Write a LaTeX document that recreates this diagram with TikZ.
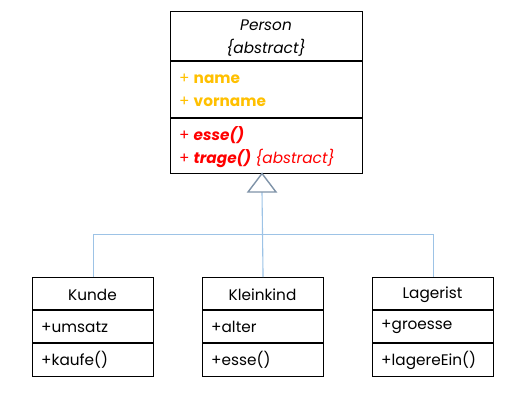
\documentclass[tikz,border=0pt]{standalone}
\usepackage{fontspec}
\setmainfont{Poppins}
\definecolor{attr}{HTML}{FFC000}
\definecolor{meth}{HTML}{FF0000}
\definecolor{conn}{HTML}{9DC3E6}
\definecolor{tri}{HTML}{7F93A8}
\begin{document}
\begin{tikzpicture}[x=1pt,y=-1pt,
  box/.style={draw=black,line width=1.1pt,inner sep=0pt,anchor=north west},
  sep/.style={draw=black,line width=1.1pt},
  thicksep/.style={draw=black,line width=2pt},
  txt/.style={inner sep=0pt,font=\fontsize{15.3}{17}\selectfont},
  ltxt/.style={txt,anchor=west},
  conn/.style={draw=conn,line width=1.1pt},
  tri/.style={draw=tri,line width=1.4pt,fill=white}]
\useasboundingbox (0,0) rectangle (513,410);
% Person
\node[box,minimum width=192pt,minimum height=162pt] (person) at (170,11) {};
\draw[sep] (170,61) -- (362,61);
\draw[thicksep] (170,117.5) -- (362,117.5);
\node[txt] (pname) at (266,25) {\itshape Person};
\node[txt] (pabs) at (266,48) {\itshape\{abstract\}};
\node[ltxt,text=attr] (a1) at (179,79) {+ \textbf{name}};
\node[ltxt,text=attr] (a2) at (179,102) {+ \textbf{vorname}};
\node[ltxt,text=meth] (m1) at (179,135) {+ \textbf{\itshape esse()}};
\node[ltxt,text=meth] (m2) at (179,158) {+ \textbf{\itshape trage()} \textit{\{abstract\}}};
% children
\foreach \n/\x/\t/\a/\m in {kunde/32/Kunde/umsatz/kaufe(),
                            klein/202/Kleinkind/alter/esse(),
                            lager/372/Lagerist/groesse/lagereEin()}{
  \node[box,minimum width=121pt,minimum height=99pt] (\n) at (\x,277) {};
  \draw[sep] (\x,310) -- ++(121,0);
  \draw[sep] (\x,343) -- ++(121,0);
  \node[txt] (\n-t) at (\x+60.5,295) {\t};
  \node[ltxt] (\n-a) at (\x+9,327) {+\a};
  \node[ltxt] (\n-m) at (\x+9,360) {+\m};
}
% connectors
\coordinate (tip) at (262,173.5);
\coordinate (base) at (262,192);
\coordinate (bar) at (262,234.5);
\draw[conn] (klein.north) -- (base);
\draw[conn] (kunde.north) |- (bar) -| (lager.north);
\draw[tri] (tip) -- (248,192) -- (276,192) -- cycle;
\end{tikzpicture}
\end{document}
